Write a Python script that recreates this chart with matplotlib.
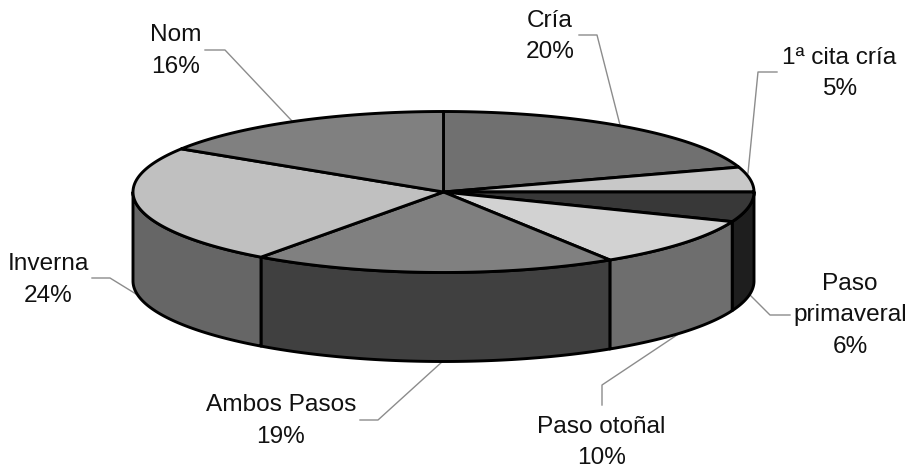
import numpy as np
import matplotlib
matplotlib.use('Agg')
import matplotlib.pyplot as plt
from matplotlib.patches import Polygon

plt.rcParams['font.family'] = ['Liberation Sans', 'DejaVu Sans']

categories = ['Cría', '1ª cita cría', 'Paso primaveral', 'Paso otoñal',
              'Ambos Pasos', 'Inverna', 'Nom']
values = [20, 5, 6, 10, 19, 24, 16]

top_colors = ['#707070', '#c8c8c8', '#383838', '#d2d2d2', '#808080', '#c0c0c0', '#808080']
side_colors = ['#505050', '#909090', '#1e1e1e', '#6e6e6e', '#404040', '#666666', '#505050']

# pie geometry, pixels
cx, cy = 443.5, 192
rx, ry = 310.5, 80.5
depth = 89

# label text position and leader polyline for each slice
label_pos = [(550, 36.5), (839.5, 73.5), (850, 315.5), (601.5, 442.5), (281, 421), (48, 280), (176, 51)]
leaders = [
    [(579, 35), (597, 35), (620, 125)],
    [(777, 72), (758, 72), (748, 173)],
    [(750, 295), (770, 315), (790, 315)],
    [(677, 335), (602, 385), (602, 405)],
    [(443, 361), (378, 420), (360, 420)],
    [(136, 294), (110, 278), (92, 278)],
    [(205, 50), (225, 50), (292, 121)],
]


def rim(a0, a1, n=120):
    # angles run clockwise from the top of the ellipse
    t = np.linspace(a0, a1, n)
    return cx + rx * np.sin(t), cy - ry * np.cos(t)


fig = plt.figure(figsize=(9.12, 4.74), dpi=100)
ax = fig.add_axes([0, 0, 1, 1])
ax.set_xlim(0, 912)
ax.set_ylim(474, 0)
ax.axis('off')

edges = np.cumsum([0] + values) / sum(values) * 2 * np.pi
lw = 2.1

# front wall, only the part below the rim's widest points shows
for i in range(len(values)):
    a0 = max(edges[i], np.pi / 2)
    a1 = min(edges[i + 1], 3 * np.pi / 2)
    if a1 <= a0:
        continue
    x, y = rim(a0, a1)
    pts = np.vstack([np.column_stack([x, y]), np.column_stack([x, y + depth])[::-1]])
    ax.add_patch(Polygon(pts, closed=True, facecolor=side_colors[i], edgecolor='black',
                         linewidth=lw, joinstyle='round', zorder=2))

# top face
for i in range(len(values)):
    x, y = rim(edges[i], edges[i + 1])
    pts = np.vstack([[cx, cy], np.column_stack([x, y])])
    ax.add_patch(Polygon(pts, closed=True, facecolor=top_colors[i], edgecolor='black',
                         linewidth=lw, joinstyle='round', zorder=3))

for line in leaders:
    xs, ys = zip(*line)
    ax.plot(xs, ys, color='#8c8c8c', linewidth=1.0, zorder=1)

for name, val, (tx, ty) in zip(categories, values, label_pos):
    if name == 'Paso primaveral':
        s = 'Paso\nprimaveral\n%d%%' % val
    else:
        s = '%s\n%d%%' % (name, val)
    ax.text(tx, ty, s, ha='center', va='center', fontsize=17.6, color='#111111',
            linespacing=1.55, zorder=4)

fig.savefig('out.png', dpi=100)
